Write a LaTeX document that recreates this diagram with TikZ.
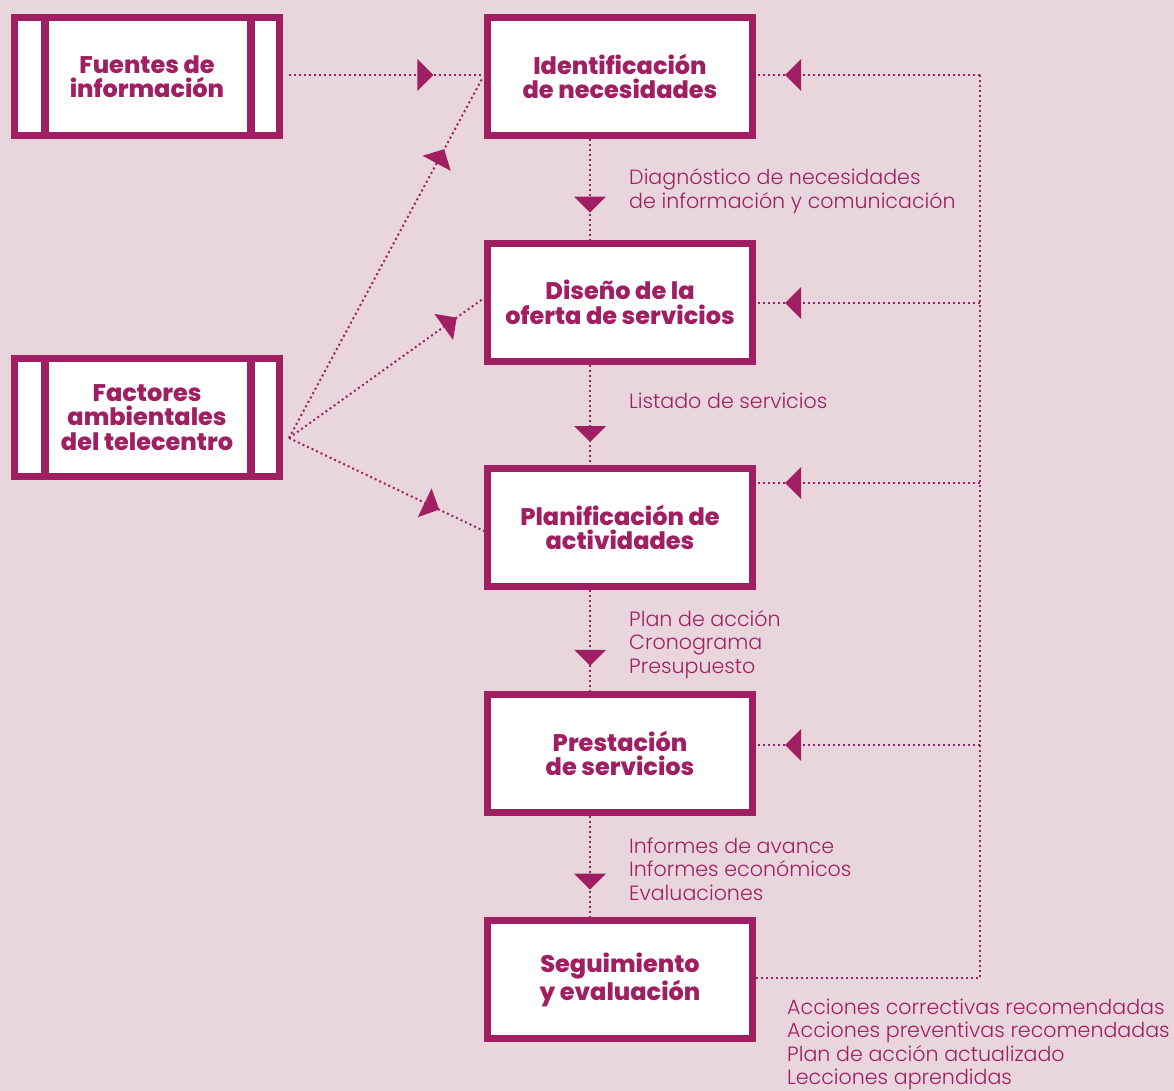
\documentclass[tikz,border=0pt]{standalone}
\usepackage{fontspec}
\setmainfont{Poppins}
\newfontfamily\headfont{Poppins}[UprightFont=* ExtraBold]
\newfontfamily\notefont{Poppins}[UprightFont=* Light]
\usetikzlibrary{decorations.markings}
\definecolor{mag}{HTML}{A01F62}
\definecolor{bgpink}{HTML}{E9D6DD}
\tikzset{
  stage/.style={draw=mag, line width=7pt, fill=white, minimum width=265pt,
    minimum height=118pt, inner sep=0pt, align=center, text=mag,
    font=\headfont\fontsize{24}{24.5}\selectfont},
  source/.style={stage},
  note/.style={text=mag, align=left, inner sep=0pt, anchor=base west,
    font=\notefont\fontsize{20.6}{23.5}\selectfont},
  link/.style={draw=mag, line width=2pt, dash pattern=on 2pt off 3pt},
  tri/.style={postaction={decorate}, decoration={markings,
    mark=at position #1 with {\fill[mag] (0pt,0pt) -- (-16pt,16pt) -- (-16pt,-16pt) -- cycle;}}}
}
\begin{document}
\begin{tikzpicture}[x=1pt, y=-1pt]
\fill[bgpink] (0,0) rectangle (1174,1091);
\useasboundingbox (0,0) rectangle (1174,1091);

% input boxes with side bars
\node[source] (fuentes) at (147,76.5) {Fuentes de\\información};
\node[source] (factores) at (147,417.5) {Factores\\ambientales\\del telecentro};
\foreach \b in {fuentes,factores}{
  \draw[mag, line width=8pt] ([xshift=33.5pt]\b.north west) -- ([xshift=33.5pt]\b.south west);
  \draw[mag, line width=8pt] ([xshift=-32.5pt]\b.north east) -- ([xshift=-32.5pt]\b.south east);
}

% main sequence
\node[stage] (ident) at (620,76.5) {Identificación\\de necesidades};
\node[stage] (diseno) at (620,302.5) {Diseño de la\\oferta de servicios};
\node[stage] (planif) at (620,527.5) {Planificación de\\actividades};
\node[stage] (prest) at (620,753.5) {Prestación\\de servicios};
\node[stage] (seguim) at (620,979.5) {Seguimiento\\y evaluación};

% vertical flow
\draw[link, tri=0.73] (ident.south -| 590,0) -- (diseno.north -| 590,0);
\draw[link, tri=0.77] (diseno.south -| 590,0) -- (planif.north -| 590,0);
\draw[link, tri=0.75] (planif.south -| 590,0) -- (prest.north -| 590,0);
\draw[link, tri=0.73] (prest.south -| 590,0) -- (seguim.north -| 590,0);

% inputs from the left
\coordinate (fsrc) at (289,75);
\coordinate (asrc) at (289,438);
\draw[link, tri=0.74] (fsrc) -- (484,75);
\draw[link, tri=0.80] (asrc) -- (483,77);
\draw[link, tri=0.86] (asrc) -- (484,298);
\draw[link, tri=0.77] (asrc) -- (484,531);

% feedback loop on the right
\coordinate (fb0) at (980,978);
\draw[link] (756,978) -- (fb0) -- (980,75);
\draw[link, tri=0.87] (980,75) -- (756,75);
\draw[link, tri=0.87] (980,303) -- (756,303);
\draw[link, tri=0.87] (980,483) -- (756,483);
\draw[link, tri=0.87] (980,745) -- (756,745);

% outputs of each stage (anchored at the baseline of the last line)
\node[note] (n1) at (629,208.5) {Diagnóstico de necesidades\\de información y comunicación};
\node[note] (n2) at (629,408) {Listado de servicios};
\node[note] (n3) at (629,673) {Plan de acción\\Cronograma\\Presupuesto};
\node[note] (n4) at (629,900) {Informes de avance\\Informes económicos\\Evaluaciones};
\node[note] (n5) at (787,1084.5) {Acciones correctivas recomendadas\\Acciones preventivas recomendadas\\Plan de acción actualizado\\Lecciones aprendidas};
\end{tikzpicture}
\end{document}
